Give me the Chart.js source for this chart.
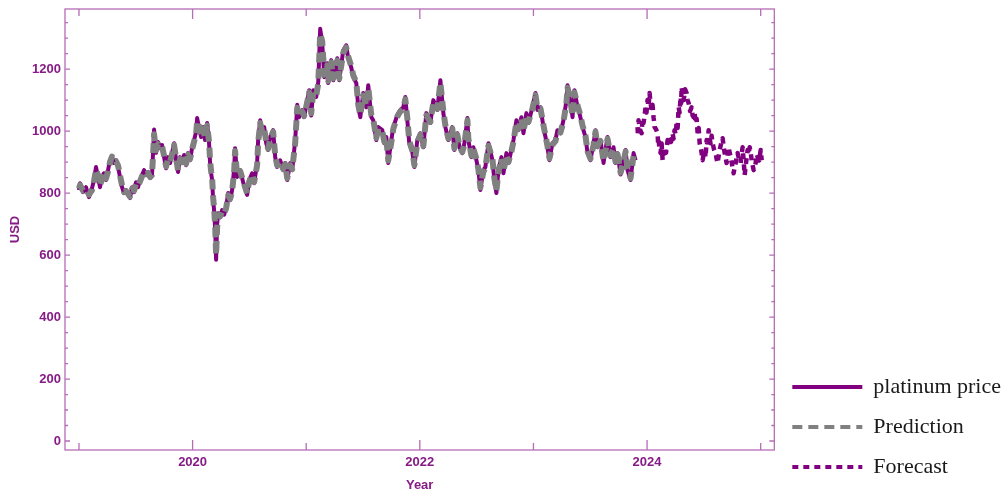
<!DOCTYPE html>
<html>
<head>
<meta charset="utf-8">
<script src="https://cdn.jsdelivr.net/npm/chart.js@4.4.1/dist/chart.umd.min.js"></script>
<style>
  body { margin: 0; background: #fff; }
  canvas { display: block; }
</style>
</head>
<body>
<canvas id="myChart" width="1003" height="490"></canvas>
<script>
// Dữ liệu giá bạch kim (năm thập phân)
const priceYears = [
  2019.000, 2019.009, 2019.035, 2019.062, 2019.088, 2019.115, 2019.132, 2019.150, 2019.167, 2019.185,
  2019.203, 2019.220, 2019.238, 2019.256, 2019.273, 2019.291, 2019.308, 2019.326, 2019.344, 2019.361,
  2019.379, 2019.396, 2019.414, 2019.432, 2019.449, 2019.467, 2019.485, 2019.502, 2019.520, 2019.537,
  2019.555, 2019.573, 2019.590, 2019.608, 2019.626, 2019.643,
  2019.661, 2019.678, 2019.696, 2019.714, 2019.731, 2019.749, 2019.767, 2019.784, 2019.802, 2019.819,
  2019.837, 2019.855, 2019.872, 2019.890, 2019.907, 2019.925, 2019.943, 2019.960, 2019.978, 2019.996,
  2020.013, 2020.031, 2020.040, 2020.057, 2020.075, 2020.093, 2020.110, 2020.128, 2020.145, 2020.154,
  2020.163, 2020.172, 2020.181, 2020.189, 2020.198, 2020.207, 2020.216, 2020.225, 2020.242, 2020.260,
  2020.278, 2020.295, 2020.313, 2020.330, 2020.348, 2020.366, 2020.374, 2020.392, 2020.419, 2020.445,
  2020.480, 2020.498, 2020.524, 2020.542, 2020.568, 2020.577, 2020.595, 2020.612, 2020.630, 2020.648,
  2020.665, 2020.683, 2020.709, 2020.727, 2020.744, 2020.771, 2020.797, 2020.815, 2020.833, 2020.859,
  2020.877, 2020.903, 2020.921, 2020.938, 2020.965, 2020.982,
  2021.009, 2021.026, 2021.044, 2021.062, 2021.088, 2021.106, 2021.123, 2021.141, 2021.159, 2021.185,
  2021.194, 2021.220, 2021.238, 2021.273, 2021.291, 2021.326, 2021.352, 2021.370, 2021.396, 2021.414,
  2021.441, 2021.458, 2021.476, 2021.502, 2021.529, 2021.546, 2021.573, 2021.590, 2021.617, 2021.634,
  2021.670, 2021.687, 2021.705, 2021.722, 2021.749, 2021.767, 2021.802, 2021.828, 2021.855, 2021.872,
  2021.890, 2021.907, 2021.934, 2021.952, 2021.978,
  2022.004, 2022.031, 2022.057, 2022.093, 2022.119, 2022.154, 2022.181, 2022.207, 2022.225, 2022.251,
  2022.286, 2022.304, 2022.330, 2022.348, 2022.374, 2022.392, 2022.419, 2022.427, 2022.454, 2022.471,
  2022.498, 2022.515, 2022.533, 2022.559, 2022.577, 2022.604, 2022.639, 2022.656, 2022.674, 2022.692,
  2022.718, 2022.736, 2022.762, 2022.780, 2022.806, 2022.824, 2022.850, 2022.868, 2022.894, 2022.912,
  2022.938, 2022.956, 2022.991,
  2023.018, 2023.035, 2023.062, 2023.088, 2023.106, 2023.123, 2023.141, 2023.167, 2023.194, 2023.211,
  2023.238, 2023.264, 2023.291, 2023.300, 2023.326, 2023.344, 2023.361, 2023.388, 2023.405, 2023.432,
  2023.458, 2023.476, 2023.502, 2023.529, 2023.546, 2023.564, 2023.590, 2023.617, 2023.634, 2023.652,
  2023.678, 2023.705, 2023.722, 2023.740, 2023.767, 2023.793, 2023.811, 2023.828, 2023.855, 2023.881,
  2023.899
];

const priceValues = [
  810, 832, 803, 819, 787, 816, 842, 884, 852, 819,
  852, 864, 842, 874, 906, 916, 897, 906, 884, 852,
  819, 800, 810, 794, 784, 819, 803, 835, 819, 842,
  858, 874, 858, 868, 848, 860,
  1005, 930, 965, 945, 955, 916, 880, 916, 897, 929,
  961, 906, 868, 916, 897, 923, 890, 929, 906, 948,
  971, 997, 1042, 1010, 981, 1013, 971, 1026, 961, 897,
  864, 842, 777, 745, 690, 585, 700, 735, 722, 745,
  730, 755, 800, 777, 810, 880, 945, 852, 874, 835,
  794, 842, 864, 832, 897, 971, 1035, 993, 1013, 961,
  939, 981, 1003, 916, 884, 906, 874, 897, 842, 897,
  874, 971, 1085, 1045, 1068, 1045,
  1100, 1132, 1050, 1132, 1110, 1158, 1330, 1284, 1174, 1219,
  1155, 1229, 1164, 1235, 1164, 1261, 1277, 1235, 1206, 1174,
  1155, 1077, 1045, 1123, 1077, 1148, 1045, 1035, 971, 1013,
  1003, 961, 981, 897, 971, 1013, 1052, 1068, 1077, 1110,
  1035, 961, 932, 884, 971,
  993, 948, 1058, 1026, 1100, 1068, 1164, 1058, 1013, 971,
  1013, 939, 993, 948, 929, 961, 1042, 971, 916, 948,
  906, 874, 810, 874, 884, 961, 906, 842, 800, 874,
  916, 864, 929, 897, 939, 971, 1035, 1003, 1045, 993,
  1058, 1026, 1077,
  1123, 1068, 1077, 1013, 981, 948, 906, 961, 971, 1003,
  993, 1035, 1100, 1148, 1090, 1045, 1132, 1077, 1058, 1013,
  981, 929, 906, 961, 1003, 948, 971, 897, 939, 981,
  916, 948, 897, 929, 860, 906, 939, 874, 842, 929,
  906
];

// Giá trị dự đoán của mô hình (cùng các mốc thời gian)
const predValues = [
  815, 826, 808, 812, 795, 810, 838, 876, 858, 824,
  846, 866, 847, 870, 900, 918, 901, 903, 889, 858,
  825, 804, 806, 798, 789, 813, 808, 830, 823, 838,
  854, 870, 862, 865, 852, 858,
  990, 938, 958, 948, 951, 921, 886, 910, 901, 925,
  955, 912, 873, 910, 900, 919, 895, 924, 910, 942,
  966, 990, 1033, 1015, 986, 1008, 976, 1018, 966, 905,
  870, 848, 785, 752, 700, 600, 690, 728, 725, 741,
  734, 751, 793, 781, 806, 872, 936, 858, 871, 839,
  799, 837, 860, 836, 890, 962, 1026, 998, 1009, 966,
  943, 976, 998, 922, 889, 903, 878, 893, 848, 890,
  877, 962, 1075, 1050, 1063, 1049,
  1093, 1125, 1058, 1125, 1114, 1153, 1315, 1290, 1182, 1212,
  1162, 1222, 1170, 1228, 1170, 1253, 1270, 1240, 1210, 1180,
  1158, 1085, 1052, 1115, 1082, 1140, 1052, 1038, 978, 1008,
  1000, 966, 977, 905, 964, 1008, 1047, 1063, 1073, 1103,
  1041, 968, 937, 890, 964,
  988, 952, 1050, 1030, 1093, 1072, 1156, 1064, 1018, 976,
  1008, 945, 988, 952, 933, 957, 1035, 976, 921, 944,
  910, 878, 818, 868, 882, 953, 910, 848, 808, 868,
  911, 869, 923, 900, 934, 966, 1028, 1007, 1040, 998,
  1052, 1030, 1072,
  1116, 1073, 1073, 1019, 985, 953, 912, 955, 968, 998,
  996, 1030, 1093, 1140, 1096, 1050, 1125, 1082, 1062, 1018,
  985, 935, 911, 955, 998, 952, 968, 903, 935, 975,
  921, 944, 902, 925, 866, 902, 934, 879, 848, 922,
  910
];

// Dự báo 2024
const forecastYears = [
  2023.916, 2023.920, 2023.925, 2023.938, 2023.952, 2023.960, 2023.969, 2023.978, 2023.987, 2023.995,
  2024.004, 2024.013, 2024.022, 2024.031, 2024.040, 2024.048, 2024.057, 2024.062, 2024.066, 2024.080,
  2024.093, 2024.097, 2024.101, 2024.110, 2024.119, 2024.128, 2024.137, 2024.145, 2024.154, 2024.167,
  2024.181, 2024.190, 2024.198, 2024.212, 2024.225, 2024.233, 2024.242, 2024.251, 2024.260, 2024.269,
  2024.278, 2024.286, 2024.295, 2024.300, 2024.304, 2024.313, 2024.322, 2024.335, 2024.348, 2024.357,
  2024.366, 2024.379, 2024.392, 2024.401, 2024.410, 2024.418, 2024.427, 2024.436, 2024.445, 2024.454,
  2024.463, 2024.476, 2024.489, 2024.498, 2024.507, 2024.515, 2024.524, 2024.533, 2024.542, 2024.550,
  2024.559, 2024.568, 2024.577, 2024.590, 2024.604, 2024.612, 2024.621, 2024.630, 2024.639, 2024.652,
  2024.665, 2024.674, 2024.683, 2024.692, 2024.700, 2024.709, 2024.718, 2024.727, 2024.736, 2024.749,
  2024.762, 2024.771, 2024.780, 2024.788, 2024.797, 2024.810, 2024.824, 2024.832, 2024.841, 2024.850,
  2024.859, 2024.872, 2024.885, 2024.894, 2024.903, 2024.912, 2024.921, 2024.929, 2024.938, 2024.947,
  2024.956, 2024.965, 2024.974, 2024.987, 2025.000, 2025.009
];

const forecastValues = [
  1013, 985, 1035, 1005, 993, 1040, 1026, 1050, 1077, 1060,
  1100, 1080, 1123, 1090, 1068, 1085, 1045, 1030, 1013, 1005,
  993, 960, 971, 945, 929, 960, 906, 925, 948, 930,
  971, 955, 981, 965, 993, 975, 1003, 990, 1026, 1010,
  1077, 1060, 1110, 1090, 1142, 1115, 1100, 1135, 1123, 1100,
  1090, 1065, 1077, 1050, 1045, 1060, 1026, 1040, 993, 1010,
  961, 940, 906, 925, 939, 915, 971, 950, 1003, 975,
  961, 985, 961, 940, 929, 910, 897, 920, 939, 960,
  977, 950, 929, 915, 897, 925, 948, 930, 916, 890,
  864, 885, 897, 915, 929, 910, 897, 925, 948, 905,
  858, 900, 939, 925, 948, 930, 906, 890, 874, 885,
  897, 925, 916, 905, 939, 906
];

const xTickLabels = [2020, 2022, 2024];
const yTickLabels = [0, 200, 400, 600, 800, 1000, 1200];

const purple = '#800080';
const grey = '#808080';
const labelColor = '#861a86';
const frameColor = '#b56db5';

function toPoints(xs, ys) {
  return xs.map(function (x, i) {
    return { x: x, y: ys[i] };
  });
}

// Khung và vạch chia hướng vào trong
const framePlugin = {
  id: 'frame',
  afterDraw(chart) {
    const { ctx, chartArea: a, scales: { x, y } } = chart;
    ctx.save();
    ctx.strokeStyle = frameColor;
    ctx.lineWidth = 1.3;
    ctx.strokeRect(a.left, a.top, a.width, a.height);
    ctx.beginPath();
    for (let v = 0; v <= 1350; v += 50) {
      const py = y.getPixelForValue(v);
      const len = v % 200 === 0 ? 5 : 3;
      ctx.moveTo(a.left, py); ctx.lineTo(a.left + len, py);
      ctx.moveTo(a.right, py); ctx.lineTo(a.right - len, py);
    }
    for (let yr = 2019; yr <= 2025; yr++) {
      const px = x.getPixelForValue(yr);
      const len = yr % 2 === 0 ? 10 : 7;
      ctx.moveTo(px, a.bottom); ctx.lineTo(px, a.bottom - len);
      ctx.moveTo(px, a.top); ctx.lineTo(px, a.top + len);
    }
    ctx.stroke();
    ctx.restore();
  }
};

const tickFont = { family: 'Liberation Sans, Arial, sans-serif', size: 13, weight: 'bold' };
const titleFont = { family: 'Liberation Sans, Arial, sans-serif', size: 13, weight: 'bold', lineHeight: 1 };

new Chart(document.getElementById('myChart'), {
  type: 'line',
  data: {
    datasets: [{
      label: 'platinum price',
      data: toPoints(priceYears, priceValues),
      borderColor: purple,
      backgroundColor: purple,
      borderWidth: 4,
      borderJoinStyle: 'round',
      order: 2
    }, {
      label: 'Prediction',
      data: toPoints(priceYears, predValues),
      borderColor: grey,
      backgroundColor: grey,
      borderWidth: 6,
      borderDash: [10, 6],
      borderJoinStyle: 'round',
      order: 1
    }, {
      label: 'Forecast',
      data: toPoints(forecastYears, forecastValues),
      borderColor: purple,
      backgroundColor: purple,
      borderWidth: 4.5,
      borderDash: [6, 5],
      borderJoinStyle: 'round',
      order: 0
    }]
  },
  options: {
    responsive: false,
    animation: false,
    elements: { point: { radius: 0 }, line: { tension: 0 } },
    layout: { padding: { left: 0, top: 9, right: -8, bottom: -6 } },
    scales: {
      x: {
        type: 'linear',
        min: 2018.877,
        max: 2025.12,
        grid: { display: false, drawTicks: false },
        border: { display: false },
        afterBuildTicks: function (s) {
          s.ticks = xTickLabels.map(function (v) { return { value: v }; });
        },
        afterFit: function (s) { s.height = 46; },
        ticks: {
          color: labelColor,
          font: tickFont,
          padding: 5,
          maxRotation: 0,
          callback: function (v) { return String(v); }
        },
        title: {
          display: true,
          text: 'Year',
          color: labelColor,
          font: titleFont,
          padding: { top: 0, bottom: 4 }
        }
      },
      y: {
        min: -29,
        max: 1394,
        grid: { display: false, drawTicks: false },
        border: { display: false },
        afterBuildTicks: function (s) {
          s.ticks = yTickLabels.map(function (v) { return { value: v }; });
        },
        afterFit: function (s) {
          s.width = 65;
          s.paddingTop = 0;
          s.paddingBottom = 0;
        },
        ticks: {
          color: labelColor,
          font: tickFont,
          padding: 4,
          callback: function (v) { return String(v); }
        },
        title: {
          display: true,
          text: 'USD',
          color: labelColor,
          font: titleFont,
          padding: { top: 9, bottom: 0 }
        }
      }
    },
    plugins: {
      tooltip: { enabled: false },
      legend: {
        position: 'right',
        align: 'end',
        labels: {
          usePointStyle: true,
          pointStyle: 'line',
          pointStyleWidth: 70,
          color: '#1a1a1a',
          padding: 18,
          font: { family: 'Liberation Serif, Times New Roman, serif', size: 22 },
          sort: function (a, b) { return a.datasetIndex - b.datasetIndex; },
          generateLabels: function (chart) {
            const items = Chart.defaults.plugins.legend.labels.generateLabels(chart);
            items.forEach(function (item) {
              item.lineDash = chart.data.datasets[item.datasetIndex].borderDash || [];
              item.lineWidth = 4;
            });
            return items;
          }
        }
      }
    }
  },
  plugins: [framePlugin]
});
</script>
</body>
</html>
